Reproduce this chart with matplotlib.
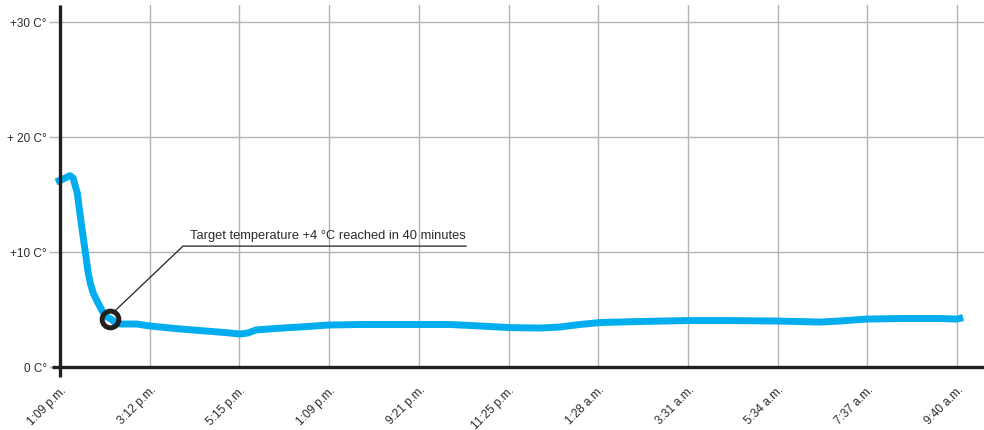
import matplotlib
matplotlib.use("Agg")
import matplotlib.pyplot as plt

plt.rcParams['font.family'] = ['Liberation Sans', 'DejaVu Sans']

# ---- data ----
x_labels = ["1:09 p.m.", "3:12 p.m.", "5:15 p.m.", "1:09 p.m.", "9:21 p.m.", "11:25 p.m.",
            "1:28 a.m.", "3:31 a.m.", "5:34 a.m.", "7:37 a.m.", "9:40 a.m."]
y_ticks = [0, 10, 20, 30]
y_labels = ["0 C°", "+10 C°", "+ 20 C°", "+30 C°"]

# time position (in tick-interval units) and temperature (°C)
t_pos = [-0.045, 0.033, 0.111, 0.148, 0.167, 0.193, 0.217, 0.242, 0.279, 0.315, 0.340,
         0.371, 0.407, 0.446, 0.479, 0.521, 0.576, 0.624, 0.669, 0.855, 1.0, 1.282,
         1.561, 1.839, 2.007, 2.096, 2.185, 2.397, 2.676, 2.988, 3.345, 3.991, 4.348,
         4.682, 5.006, 5.351, 5.574, 5.797, 6.020, 6.466, 6.990, 7.469, 7.993, 8.473,
         8.696, 8.986, 9.365, 9.811, 10.0, 10.067]
temp = [16.11, 16.35, 16.65, 16.43, 15.83, 15.13, 13.65, 12.2, 10.17, 8.17, 7.22,
        6.43, 5.83, 5.24, 4.78, 4.37, 4.13, 3.83, 3.74, 3.74, 3.57, 3.35,
        3.17, 3.0, 2.87, 2.96, 3.22, 3.35, 3.48, 3.65, 3.70, 3.70, 3.70,
        3.57, 3.43, 3.39, 3.48, 3.70, 3.87, 3.96, 4.04, 4.04, 4.0, 3.91,
        4.0, 4.17, 4.22, 4.22, 4.17, 4.30]

target_pos = 0.557
target_temp = 4.22
annotation = "Target temperature +4 °C reached in 40 minutes"

# ---- figure ----
fig = plt.figure(figsize=(9.84, 4.30), dpi=100)
ax = fig.add_axes([60/984, 1 - 367/430, 1 - 60/984, (367 - 5)/430])
ax.set_xlim(0, 10.3)
ax.set_ylim(0, 31.5)

text_col = "#2b2b2b"
grid_col = "#b3b3b3"
axis_col = "#231f20"

ax.set_xticks(range(len(x_labels)))
ax.set_xticklabels(x_labels, rotation=45, ha="right", va="top",
                   rotation_mode="anchor", fontsize=8.5, color=text_col)
ax.set_yticks(y_ticks)
ax.set_yticklabels(y_labels, fontsize=8.5, color=text_col)
ax.tick_params(axis="x", length=0, pad=12.5)
ax.tick_params(axis="y", length=8, width=1.0, color=grid_col, pad=1.5)

ax.grid(True, color=grid_col, linewidth=1.0)
ax.set_axisbelow(True)
for s in ax.spines.values():
    s.set_visible(False)

# axis lines (extended past the origin)
ax.plot([0, 0], [-0.9, 31.5], color=axis_col, linewidth=2.4, clip_on=False, zorder=4,
        solid_capstyle="butt")
ax.plot([-0.09, 10.3], [0, 0], color=axis_col, linewidth=2.4, clip_on=False, zorder=4,
        solid_capstyle="butt")

ax.plot(t_pos, temp, color="#00aeef", linewidth=5, clip_on=False, zorder=3,
        solid_joinstyle="round", solid_capstyle="butt")

# annotation
ax.plot([target_pos + 0.04, 1.371, 4.526], [target_temp + 0.55, 10.52, 10.52],
        color="#231f20", linewidth=0.9, zorder=5)
ax.plot([target_pos], [target_temp], marker="o", markersize=12, markerfacecolor="none",
        markeredgecolor="#231f20", markeredgewidth=3.6, zorder=6)
ax.text(1.45, 10.9, annotation, fontsize=9.3, color=text_col, ha="left", va="bottom")

fig.savefig("out.png", dpi=100)
